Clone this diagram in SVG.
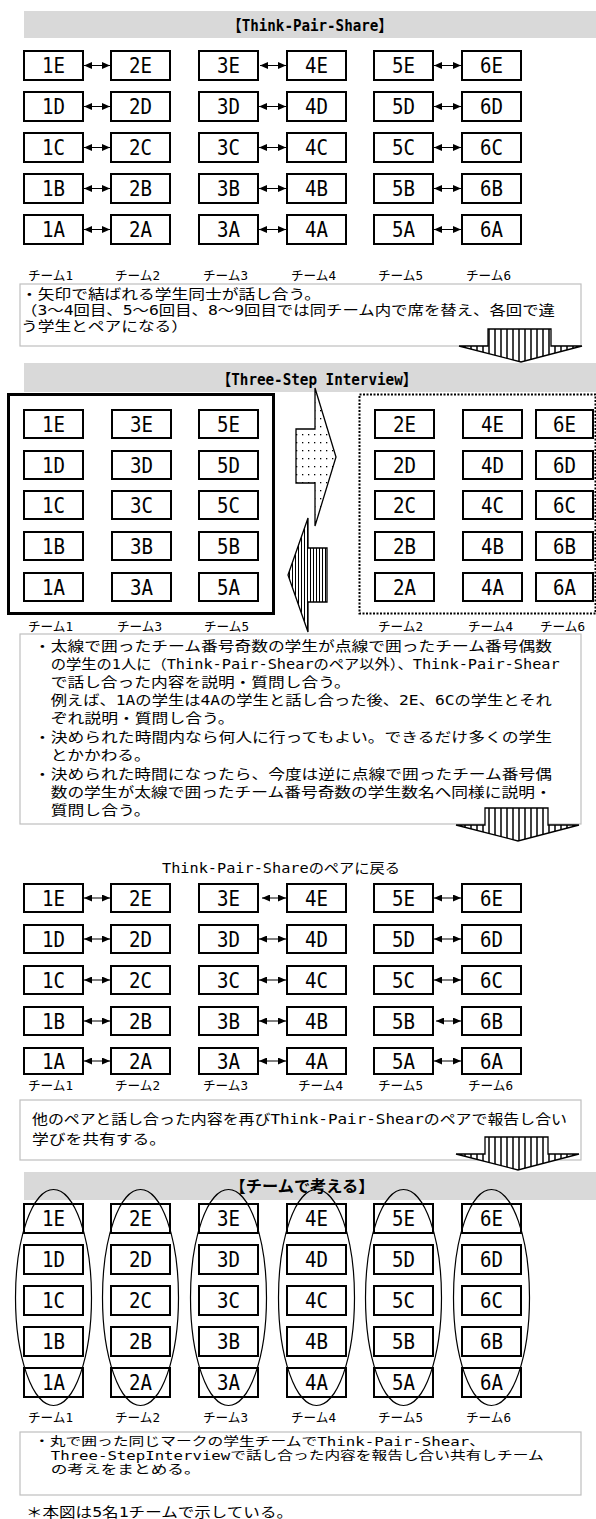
<svg xmlns="http://www.w3.org/2000/svg" width="596" height="1519" viewBox="0 0 596 1519">
<style>
text{font-family:"DejaVu Sans Mono","Noto Sans CJK JP",monospace;fill:#000}
.bar{fill:#d9d9d9}
.ttl{font-size:16px;font-weight:bold;text-anchor:middle}
.bx{fill:#fff;stroke:#000;stroke-width:2}
.lb{font-size:21px;text-anchor:middle}
.tm{font-size:13px}
.tb{fill:#fff;stroke:#bfbfbf;stroke-width:1.2}
.tx{font-size:13.4px}
.ts{font-size:12px}
.ar{stroke:#000;stroke-width:1;fill:none;marker-start:url(#ah);marker-end:url(#ah)}
.el{fill:none;stroke:#000;stroke-width:1.2}
</style>
<defs>
<marker id="ah" viewBox="0 0 8 7" refX="8" refY="3.5" markerWidth="8" markerHeight="7" markerUnits="userSpaceOnUse" orient="auto-start-reverse"><path d="M0,0 L8,3.5 L0,7 Z" fill="#000"/></marker>
<pattern id="vs" width="6" height="6" patternUnits="userSpaceOnUse"><rect width="6" height="6" fill="#fff"/><line x1="3" y1="0" x2="3" y2="6" stroke="#000" stroke-width="1.5"/></pattern>
<pattern id="vsd" width="3" height="3" patternUnits="userSpaceOnUse"><rect width="3" height="3" fill="#fff"/><line x1="1.5" y1="0" x2="1.5" y2="3" stroke="#000" stroke-width="1"/></pattern>
<pattern id="dt" width="6" height="8" patternUnits="userSpaceOnUse"><rect width="6" height="8" fill="#fff"/><rect x="2" y="2" width="1.3" height="1.3" fill="#000"/></pattern>
</defs>

<!-- Section 1 -->
<g id="title1"><rect class="bar" x="24" y="11" width="572" height="27"/><text class="ttl" x="310" y="31" textLength="165" lengthAdjust="spacingAndGlyphs">【Think-Pair-Share】</text></g>
<g id="s1-nodes">
<g id="s1-1E"><rect class="bx" x="24" y="51" width="59" height="29"/><text class="lb" x="53.5" y="73" textLength="23" lengthAdjust="spacingAndGlyphs">1E</text></g>
<g id="s1-2E"><rect class="bx" x="111" y="51" width="59" height="29"/><text class="lb" x="140.5" y="73" textLength="23" lengthAdjust="spacingAndGlyphs">2E</text></g>
<g id="s1-3E"><rect class="bx" x="199" y="51" width="59" height="29"/><text class="lb" x="228.5" y="73" textLength="23" lengthAdjust="spacingAndGlyphs">3E</text></g>
<g id="s1-4E"><rect class="bx" x="287" y="51" width="59" height="29"/><text class="lb" x="316.5" y="73" textLength="23" lengthAdjust="spacingAndGlyphs">4E</text></g>
<g id="s1-5E"><rect class="bx" x="374" y="51" width="59" height="29"/><text class="lb" x="403.5" y="73" textLength="23" lengthAdjust="spacingAndGlyphs">5E</text></g>
<g id="s1-6E"><rect class="bx" x="462" y="51" width="59" height="29"/><text class="lb" x="491.5" y="73" textLength="23" lengthAdjust="spacingAndGlyphs">6E</text></g>
<g id="s1-1D"><rect class="bx" x="24" y="92" width="59" height="29"/><text class="lb" x="53.5" y="114" textLength="23" lengthAdjust="spacingAndGlyphs">1D</text></g>
<g id="s1-2D"><rect class="bx" x="111" y="92" width="59" height="29"/><text class="lb" x="140.5" y="114" textLength="23" lengthAdjust="spacingAndGlyphs">2D</text></g>
<g id="s1-3D"><rect class="bx" x="199" y="92" width="59" height="29"/><text class="lb" x="228.5" y="114" textLength="23" lengthAdjust="spacingAndGlyphs">3D</text></g>
<g id="s1-4D"><rect class="bx" x="287" y="92" width="59" height="29"/><text class="lb" x="316.5" y="114" textLength="23" lengthAdjust="spacingAndGlyphs">4D</text></g>
<g id="s1-5D"><rect class="bx" x="374" y="92" width="59" height="29"/><text class="lb" x="403.5" y="114" textLength="23" lengthAdjust="spacingAndGlyphs">5D</text></g>
<g id="s1-6D"><rect class="bx" x="462" y="92" width="59" height="29"/><text class="lb" x="491.5" y="114" textLength="23" lengthAdjust="spacingAndGlyphs">6D</text></g>
<g id="s1-1C"><rect class="bx" x="24" y="133" width="59" height="29"/><text class="lb" x="53.5" y="155" textLength="23" lengthAdjust="spacingAndGlyphs">1C</text></g>
<g id="s1-2C"><rect class="bx" x="111" y="133" width="59" height="29"/><text class="lb" x="140.5" y="155" textLength="23" lengthAdjust="spacingAndGlyphs">2C</text></g>
<g id="s1-3C"><rect class="bx" x="199" y="133" width="59" height="29"/><text class="lb" x="228.5" y="155" textLength="23" lengthAdjust="spacingAndGlyphs">3C</text></g>
<g id="s1-4C"><rect class="bx" x="287" y="133" width="59" height="29"/><text class="lb" x="316.5" y="155" textLength="23" lengthAdjust="spacingAndGlyphs">4C</text></g>
<g id="s1-5C"><rect class="bx" x="374" y="133" width="59" height="29"/><text class="lb" x="403.5" y="155" textLength="23" lengthAdjust="spacingAndGlyphs">5C</text></g>
<g id="s1-6C"><rect class="bx" x="462" y="133" width="59" height="29"/><text class="lb" x="491.5" y="155" textLength="23" lengthAdjust="spacingAndGlyphs">6C</text></g>
<g id="s1-1B"><rect class="bx" x="24" y="174" width="59" height="29"/><text class="lb" x="53.5" y="196" textLength="23" lengthAdjust="spacingAndGlyphs">1B</text></g>
<g id="s1-2B"><rect class="bx" x="111" y="174" width="59" height="29"/><text class="lb" x="140.5" y="196" textLength="23" lengthAdjust="spacingAndGlyphs">2B</text></g>
<g id="s1-3B"><rect class="bx" x="199" y="174" width="59" height="29"/><text class="lb" x="228.5" y="196" textLength="23" lengthAdjust="spacingAndGlyphs">3B</text></g>
<g id="s1-4B"><rect class="bx" x="287" y="174" width="59" height="29"/><text class="lb" x="316.5" y="196" textLength="23" lengthAdjust="spacingAndGlyphs">4B</text></g>
<g id="s1-5B"><rect class="bx" x="374" y="174" width="59" height="29"/><text class="lb" x="403.5" y="196" textLength="23" lengthAdjust="spacingAndGlyphs">5B</text></g>
<g id="s1-6B"><rect class="bx" x="462" y="174" width="59" height="29"/><text class="lb" x="491.5" y="196" textLength="23" lengthAdjust="spacingAndGlyphs">6B</text></g>
<g id="s1-1A"><rect class="bx" x="24" y="215" width="59" height="29"/><text class="lb" x="53.5" y="237" textLength="23" lengthAdjust="spacingAndGlyphs">1A</text></g>
<g id="s1-2A"><rect class="bx" x="111" y="215" width="59" height="29"/><text class="lb" x="140.5" y="237" textLength="23" lengthAdjust="spacingAndGlyphs">2A</text></g>
<g id="s1-3A"><rect class="bx" x="199" y="215" width="59" height="29"/><text class="lb" x="228.5" y="237" textLength="23" lengthAdjust="spacingAndGlyphs">3A</text></g>
<g id="s1-4A"><rect class="bx" x="287" y="215" width="59" height="29"/><text class="lb" x="316.5" y="237" textLength="23" lengthAdjust="spacingAndGlyphs">4A</text></g>
<g id="s1-5A"><rect class="bx" x="374" y="215" width="59" height="29"/><text class="lb" x="403.5" y="237" textLength="23" lengthAdjust="spacingAndGlyphs">5A</text></g>
<g id="s1-6A"><rect class="bx" x="462" y="215" width="59" height="29"/><text class="lb" x="491.5" y="237" textLength="23" lengthAdjust="spacingAndGlyphs">6A</text></g>
</g>
<g id="s1-connectors">
<line class="ar" x1="84" y1="65.5" x2="110" y2="65.5"/><line class="ar" x1="260" y1="65.5" x2="286" y2="65.5"/><line class="ar" x1="434" y1="65.5" x2="461" y2="65.5"/>
<line class="ar" x1="84" y1="106.5" x2="110" y2="106.5"/><line class="ar" x1="259" y1="106.5" x2="286" y2="106.5"/><line class="ar" x1="434" y1="106.5" x2="461" y2="106.5"/>
<line class="ar" x1="84" y1="147.5" x2="110" y2="147.5"/><line class="ar" x1="259" y1="147.5" x2="286" y2="147.5"/><line class="ar" x1="434" y1="147.5" x2="461" y2="147.5"/>
<line class="ar" x1="84" y1="188.5" x2="110" y2="188.5"/><line class="ar" x1="259" y1="188.5" x2="286" y2="188.5"/><line class="ar" x1="434" y1="188.5" x2="461" y2="188.5"/>
<line class="ar" x1="84" y1="229.5" x2="110" y2="229.5"/><line class="ar" x1="259" y1="229.5" x2="286" y2="229.5"/><line class="ar" x1="434" y1="229.5" x2="461" y2="229.5"/>
</g>
<g id="s1-teams">
<text class="tm" x="28" y="280" textLength="45" lengthAdjust="spacingAndGlyphs">チーム1</text>
<text class="tm" x="115" y="280" textLength="45" lengthAdjust="spacingAndGlyphs">チーム2</text>
<text class="tm" x="203" y="280" textLength="45" lengthAdjust="spacingAndGlyphs">チーム3</text>
<text class="tm" x="291" y="280" textLength="45" lengthAdjust="spacingAndGlyphs">チーム4</text>
<text class="tm" x="378" y="280" textLength="45" lengthAdjust="spacingAndGlyphs">チーム5</text>
<text class="tm" x="466" y="280" textLength="45" lengthAdjust="spacingAndGlyphs">チーム6</text>
</g>
<g id="note1">
<rect class="tb" x="20" y="284" width="561" height="62"/>
<text class="tx" x="21" y="299" textLength="300" lengthAdjust="spacingAndGlyphs">・矢印で結ばれる学生同士が話し合う。</text>
<text class="tx" x="21" y="315" textLength="534" lengthAdjust="spacingAndGlyphs">（3～4回目、5～6回目、8～9回目では同チーム内で席を替え、各回で違</text>
<text class="tx" x="21" y="331" textLength="167" lengthAdjust="spacingAndGlyphs">う学生とペアになる）</text>
</g>
<path id="down1" d="M488,329 H551 V346 H582 L521,362 L459,346 H488 Z" fill="url(#vs)" stroke="#000" stroke-width="1.3"/>

<!-- Section 2 -->
<g id="title2"><rect class="bar" x="24" y="363" width="572" height="29"/><text class="ttl" x="317" y="385" textLength="200" lengthAdjust="spacingAndGlyphs">【Three-Step Interview】</text></g>
<rect id="oddframe" x="8.5" y="394.5" width="265" height="219" fill="none" stroke="#000" stroke-width="3"/>
<rect id="evenframe" x="359.5" y="394.5" width="236" height="219" fill="none" stroke="#000" stroke-width="2" stroke-dasharray="2 1.5"/>
<g id="s2-nodes">
<g id="s2-1E"><rect class="bx" x="24" y="410" width="59" height="28"/><text class="lb" x="53.5" y="431.5" textLength="23" lengthAdjust="spacingAndGlyphs">1E</text></g>
<g id="s2-3E"><rect class="bx" x="112" y="410" width="59" height="28"/><text class="lb" x="141.5" y="431.5" textLength="23" lengthAdjust="spacingAndGlyphs">3E</text></g>
<g id="s2-5E"><rect class="bx" x="199" y="410" width="59" height="28"/><text class="lb" x="228.5" y="431.5" textLength="23" lengthAdjust="spacingAndGlyphs">5E</text></g>
<g id="s2-1D"><rect class="bx" x="24" y="451" width="59" height="28"/><text class="lb" x="53.5" y="472.5" textLength="23" lengthAdjust="spacingAndGlyphs">1D</text></g>
<g id="s2-3D"><rect class="bx" x="112" y="451" width="59" height="28"/><text class="lb" x="141.5" y="472.5" textLength="23" lengthAdjust="spacingAndGlyphs">3D</text></g>
<g id="s2-5D"><rect class="bx" x="199" y="451" width="59" height="28"/><text class="lb" x="228.5" y="472.5" textLength="23" lengthAdjust="spacingAndGlyphs">5D</text></g>
<g id="s2-1C"><rect class="bx" x="24" y="491" width="59" height="28"/><text class="lb" x="53.5" y="512.5" textLength="23" lengthAdjust="spacingAndGlyphs">1C</text></g>
<g id="s2-3C"><rect class="bx" x="112" y="491" width="59" height="28"/><text class="lb" x="141.5" y="512.5" textLength="23" lengthAdjust="spacingAndGlyphs">3C</text></g>
<g id="s2-5C"><rect class="bx" x="199" y="491" width="59" height="28"/><text class="lb" x="228.5" y="512.5" textLength="23" lengthAdjust="spacingAndGlyphs">5C</text></g>
<g id="s2-1B"><rect class="bx" x="24" y="532" width="59" height="28"/><text class="lb" x="53.5" y="553.5" textLength="23" lengthAdjust="spacingAndGlyphs">1B</text></g>
<g id="s2-3B"><rect class="bx" x="112" y="532" width="59" height="28"/><text class="lb" x="141.5" y="553.5" textLength="23" lengthAdjust="spacingAndGlyphs">3B</text></g>
<g id="s2-5B"><rect class="bx" x="199" y="532" width="59" height="28"/><text class="lb" x="228.5" y="553.5" textLength="23" lengthAdjust="spacingAndGlyphs">5B</text></g>
<g id="s2-1A"><rect class="bx" x="24" y="573" width="59" height="28"/><text class="lb" x="53.5" y="594.5" textLength="23" lengthAdjust="spacingAndGlyphs">1A</text></g>
<g id="s2-3A"><rect class="bx" x="112" y="573" width="59" height="28"/><text class="lb" x="141.5" y="594.5" textLength="23" lengthAdjust="spacingAndGlyphs">3A</text></g>
<g id="s2-5A"><rect class="bx" x="199" y="573" width="59" height="28"/><text class="lb" x="228.5" y="594.5" textLength="23" lengthAdjust="spacingAndGlyphs">5A</text></g>
<g id="s2-2E"><rect class="bx" x="375" y="410" width="59" height="28"/><text class="lb" x="404.5" y="431.5" textLength="23" lengthAdjust="spacingAndGlyphs">2E</text></g>
<g id="s2-4E"><rect class="bx" x="463" y="410" width="59" height="28"/><text class="lb" x="492.5" y="431.5" textLength="23" lengthAdjust="spacingAndGlyphs">4E</text></g>
<g id="s2-6E"><rect class="bx" x="536" y="410" width="57" height="28"/><text class="lb" x="564.5" y="431.5" textLength="23" lengthAdjust="spacingAndGlyphs">6E</text></g>
<g id="s2-2D"><rect class="bx" x="375" y="451" width="59" height="28"/><text class="lb" x="404.5" y="472.5" textLength="23" lengthAdjust="spacingAndGlyphs">2D</text></g>
<g id="s2-4D"><rect class="bx" x="463" y="451" width="59" height="28"/><text class="lb" x="492.5" y="472.5" textLength="23" lengthAdjust="spacingAndGlyphs">4D</text></g>
<g id="s2-6D"><rect class="bx" x="536" y="451" width="57" height="28"/><text class="lb" x="564.5" y="472.5" textLength="23" lengthAdjust="spacingAndGlyphs">6D</text></g>
<g id="s2-2C"><rect class="bx" x="375" y="491" width="59" height="28"/><text class="lb" x="404.5" y="512.5" textLength="23" lengthAdjust="spacingAndGlyphs">2C</text></g>
<g id="s2-4C"><rect class="bx" x="463" y="491" width="59" height="28"/><text class="lb" x="492.5" y="512.5" textLength="23" lengthAdjust="spacingAndGlyphs">4C</text></g>
<g id="s2-6C"><rect class="bx" x="536" y="491" width="57" height="28"/><text class="lb" x="564.5" y="512.5" textLength="23" lengthAdjust="spacingAndGlyphs">6C</text></g>
<g id="s2-2B"><rect class="bx" x="375" y="532" width="59" height="28"/><text class="lb" x="404.5" y="553.5" textLength="23" lengthAdjust="spacingAndGlyphs">2B</text></g>
<g id="s2-4B"><rect class="bx" x="463" y="532" width="59" height="28"/><text class="lb" x="492.5" y="553.5" textLength="23" lengthAdjust="spacingAndGlyphs">4B</text></g>
<g id="s2-6B"><rect class="bx" x="536" y="532" width="57" height="28"/><text class="lb" x="564.5" y="553.5" textLength="23" lengthAdjust="spacingAndGlyphs">6B</text></g>
<g id="s2-2A"><rect class="bx" x="375" y="573" width="59" height="28"/><text class="lb" x="404.5" y="594.5" textLength="23" lengthAdjust="spacingAndGlyphs">2A</text></g>
<g id="s2-4A"><rect class="bx" x="463" y="573" width="59" height="28"/><text class="lb" x="492.5" y="594.5" textLength="23" lengthAdjust="spacingAndGlyphs">4A</text></g>
<g id="s2-6A"><rect class="bx" x="536" y="573" width="57" height="28"/><text class="lb" x="564.5" y="594.5" textLength="23" lengthAdjust="spacingAndGlyphs">6A</text></g>
</g>
<g id="s2-connectors">
<path id="go-right" d="M296,429 H315 V388 L336,457 L315,526 V483 H296 Z" fill="url(#dt)" stroke="#000" stroke-width="1.3"/>
<path id="go-left" d="M327,548 H308 V518 L288,575 L308,632 V602 H327 Z" fill="url(#vsd)" stroke="#000" stroke-width="1.3"/>
</g>
<g id="s2-teams">
<text class="tm" x="28" y="631" textLength="45" lengthAdjust="spacingAndGlyphs">チーム1</text>
<text class="tm" x="117" y="631" textLength="45" lengthAdjust="spacingAndGlyphs">チーム3</text>
<text class="tm" x="204" y="631" textLength="45" lengthAdjust="spacingAndGlyphs">チーム5</text>
<text class="tm" x="378" y="631" textLength="45" lengthAdjust="spacingAndGlyphs">チーム2</text>
<text class="tm" x="468" y="631" textLength="45" lengthAdjust="spacingAndGlyphs">チーム4</text>
<text class="tm" x="540" y="631" textLength="45" lengthAdjust="spacingAndGlyphs">チーム6</text>
</g>
<g id="note2">
<rect class="tb" x="20" y="634" width="561" height="190"/>
<text class="tx" x="34" y="651" textLength="518" lengthAdjust="spacingAndGlyphs">・太線で囲ったチーム番号奇数の学生が点線で囲ったチーム番号偶数</text>
<text class="tx" x="50.7" y="669" textLength="509" lengthAdjust="spacingAndGlyphs">の学生の1人に（Think-Pair-Shearのペア以外）、Think-Pair-Shear</text>
<text class="tx" x="50.7" y="687" textLength="300" lengthAdjust="spacingAndGlyphs">で話し合った内容を説明・質問し合う。</text>
<text class="tx" x="50.7" y="705" textLength="501" lengthAdjust="spacingAndGlyphs">例えば、1Aの学生は4Aの学生と話し合った後、2E、6Cの学生とそれ</text>
<text class="tx" x="50.7" y="723" textLength="184" lengthAdjust="spacingAndGlyphs">ぞれ説明・質問し合う。</text>
<text class="tx" x="34" y="742" textLength="518" lengthAdjust="spacingAndGlyphs">・決められた時間内なら何人に行ってもよい。できるだけ多くの学生</text>
<text class="tx" x="50.7" y="760" textLength="100" lengthAdjust="spacingAndGlyphs">とかかわる。</text>
<text class="tx" x="34" y="779" textLength="518" lengthAdjust="spacingAndGlyphs">・決められた時間になったら、今度は逆に点線で囲ったチーム番号偶</text>
<text class="tx" x="50.7" y="797" textLength="501" lengthAdjust="spacingAndGlyphs">数の学生が太線で囲ったチーム番号奇数の学生数名へ同様に説明・</text>
<text class="tx" x="50.7" y="815" textLength="100" lengthAdjust="spacingAndGlyphs">質問し合う。</text>
</g>
<path id="down2" d="M485,808 H548 V825 H579 L518,841 L456,825 H485 Z" fill="url(#vs)" stroke="#000" stroke-width="1.3"/>

<!-- Section 3 -->
<text id="title3" class="tx" x="162" y="873" textLength="238" lengthAdjust="spacingAndGlyphs">Think-Pair-Shareのペアに戻る</text>
<g id="s3-nodes">
<g id="s3-1E"><rect class="bx" x="24" y="884" width="59" height="28"/><text class="lb" x="53.5" y="905.5" textLength="23" lengthAdjust="spacingAndGlyphs">1E</text></g>
<g id="s3-2E"><rect class="bx" x="111" y="884" width="59" height="28"/><text class="lb" x="140.5" y="905.5" textLength="23" lengthAdjust="spacingAndGlyphs">2E</text></g>
<g id="s3-3E"><rect class="bx" x="199" y="884" width="59" height="28"/><text class="lb" x="228.5" y="905.5" textLength="23" lengthAdjust="spacingAndGlyphs">3E</text></g>
<g id="s3-4E"><rect class="bx" x="287" y="884" width="59" height="28"/><text class="lb" x="316.5" y="905.5" textLength="23" lengthAdjust="spacingAndGlyphs">4E</text></g>
<g id="s3-5E"><rect class="bx" x="374" y="884" width="59" height="28"/><text class="lb" x="403.5" y="905.5" textLength="23" lengthAdjust="spacingAndGlyphs">5E</text></g>
<g id="s3-6E"><rect class="bx" x="462" y="884" width="59" height="28"/><text class="lb" x="491.5" y="905.5" textLength="23" lengthAdjust="spacingAndGlyphs">6E</text></g>
<g id="s3-1D"><rect class="bx" x="24" y="925" width="59" height="28"/><text class="lb" x="53.5" y="946.5" textLength="23" lengthAdjust="spacingAndGlyphs">1D</text></g>
<g id="s3-2D"><rect class="bx" x="111" y="925" width="59" height="28"/><text class="lb" x="140.5" y="946.5" textLength="23" lengthAdjust="spacingAndGlyphs">2D</text></g>
<g id="s3-3D"><rect class="bx" x="199" y="925" width="59" height="28"/><text class="lb" x="228.5" y="946.5" textLength="23" lengthAdjust="spacingAndGlyphs">3D</text></g>
<g id="s3-4D"><rect class="bx" x="287" y="925" width="59" height="28"/><text class="lb" x="316.5" y="946.5" textLength="23" lengthAdjust="spacingAndGlyphs">4D</text></g>
<g id="s3-5D"><rect class="bx" x="374" y="925" width="59" height="28"/><text class="lb" x="403.5" y="946.5" textLength="23" lengthAdjust="spacingAndGlyphs">5D</text></g>
<g id="s3-6D"><rect class="bx" x="462" y="925" width="59" height="28"/><text class="lb" x="491.5" y="946.5" textLength="23" lengthAdjust="spacingAndGlyphs">6D</text></g>
<g id="s3-1C"><rect class="bx" x="24" y="966" width="59" height="28"/><text class="lb" x="53.5" y="987.5" textLength="23" lengthAdjust="spacingAndGlyphs">1C</text></g>
<g id="s3-2C"><rect class="bx" x="111" y="966" width="59" height="28"/><text class="lb" x="140.5" y="987.5" textLength="23" lengthAdjust="spacingAndGlyphs">2C</text></g>
<g id="s3-3C"><rect class="bx" x="199" y="966" width="59" height="28"/><text class="lb" x="228.5" y="987.5" textLength="23" lengthAdjust="spacingAndGlyphs">3C</text></g>
<g id="s3-4C"><rect class="bx" x="287" y="966" width="59" height="28"/><text class="lb" x="316.5" y="987.5" textLength="23" lengthAdjust="spacingAndGlyphs">4C</text></g>
<g id="s3-5C"><rect class="bx" x="374" y="966" width="59" height="28"/><text class="lb" x="403.5" y="987.5" textLength="23" lengthAdjust="spacingAndGlyphs">5C</text></g>
<g id="s3-6C"><rect class="bx" x="462" y="966" width="59" height="28"/><text class="lb" x="491.5" y="987.5" textLength="23" lengthAdjust="spacingAndGlyphs">6C</text></g>
<g id="s3-1B"><rect class="bx" x="24" y="1007" width="59" height="28"/><text class="lb" x="53.5" y="1028.5" textLength="23" lengthAdjust="spacingAndGlyphs">1B</text></g>
<g id="s3-2B"><rect class="bx" x="111" y="1007" width="59" height="28"/><text class="lb" x="140.5" y="1028.5" textLength="23" lengthAdjust="spacingAndGlyphs">2B</text></g>
<g id="s3-3B"><rect class="bx" x="199" y="1007" width="59" height="28"/><text class="lb" x="228.5" y="1028.5" textLength="23" lengthAdjust="spacingAndGlyphs">3B</text></g>
<g id="s3-4B"><rect class="bx" x="287" y="1007" width="59" height="28"/><text class="lb" x="316.5" y="1028.5" textLength="23" lengthAdjust="spacingAndGlyphs">4B</text></g>
<g id="s3-5B"><rect class="bx" x="374" y="1007" width="59" height="28"/><text class="lb" x="403.5" y="1028.5" textLength="23" lengthAdjust="spacingAndGlyphs">5B</text></g>
<g id="s3-6B"><rect class="bx" x="462" y="1007" width="59" height="28"/><text class="lb" x="491.5" y="1028.5" textLength="23" lengthAdjust="spacingAndGlyphs">6B</text></g>
<g id="s3-1A"><rect class="bx" x="24" y="1048" width="59" height="26"/><text class="lb" x="53.5" y="1068.5" textLength="23" lengthAdjust="spacingAndGlyphs">1A</text></g>
<g id="s3-2A"><rect class="bx" x="111" y="1048" width="59" height="26"/><text class="lb" x="140.5" y="1068.5" textLength="23" lengthAdjust="spacingAndGlyphs">2A</text></g>
<g id="s3-3A"><rect class="bx" x="199" y="1048" width="59" height="26"/><text class="lb" x="228.5" y="1068.5" textLength="23" lengthAdjust="spacingAndGlyphs">3A</text></g>
<g id="s3-4A"><rect class="bx" x="287" y="1048" width="59" height="26"/><text class="lb" x="316.5" y="1068.5" textLength="23" lengthAdjust="spacingAndGlyphs">4A</text></g>
<g id="s3-5A"><rect class="bx" x="374" y="1048" width="59" height="26"/><text class="lb" x="403.5" y="1068.5" textLength="23" lengthAdjust="spacingAndGlyphs">5A</text></g>
<g id="s3-6A"><rect class="bx" x="462" y="1048" width="59" height="26"/><text class="lb" x="491.5" y="1068.5" textLength="23" lengthAdjust="spacingAndGlyphs">6A</text></g>
</g>
<g id="s3-connectors">
<line class="ar" x1="84" y1="898" x2="110" y2="898"/><line class="ar" x1="262" y1="898" x2="286" y2="898"/><line class="ar" x1="434" y1="898" x2="461" y2="898"/>
<line class="ar" x1="84" y1="939" x2="110" y2="939"/><line class="ar" x1="259" y1="939" x2="286" y2="939"/><line class="ar" x1="434" y1="939" x2="461" y2="939"/>
<line class="ar" x1="84" y1="980" x2="110" y2="980"/><line class="ar" x1="259" y1="980" x2="286" y2="980"/><line class="ar" x1="434" y1="980" x2="461" y2="980"/>
<line class="ar" x1="84" y1="1021" x2="110" y2="1021"/><line class="ar" x1="259" y1="1021" x2="286" y2="1021"/><line class="ar" x1="436" y1="1021" x2="461" y2="1021"/>
<line class="ar" x1="84" y1="1061" x2="110" y2="1061"/><line class="ar" x1="259" y1="1061" x2="286" y2="1061"/><line class="ar" x1="434" y1="1061" x2="461" y2="1061"/>
</g>
<g id="s3-teams">
<text class="tm" x="28" y="1090" textLength="45" lengthAdjust="spacingAndGlyphs">チーム1</text>
<text class="tm" x="115" y="1090" textLength="45" lengthAdjust="spacingAndGlyphs">チーム2</text>
<text class="tm" x="203" y="1090" textLength="45" lengthAdjust="spacingAndGlyphs">チーム3</text>
<text class="tm" x="298" y="1090" textLength="45" lengthAdjust="spacingAndGlyphs">チーム4</text>
<text class="tm" x="378" y="1090" textLength="45" lengthAdjust="spacingAndGlyphs">チーム5</text>
<text class="tm" x="468" y="1090" textLength="45" lengthAdjust="spacingAndGlyphs">チーム6</text>
</g>
<g id="note3">
<rect class="tb" x="20" y="1100" width="561" height="60"/>
<text class="tx" x="32" y="1124" textLength="535" lengthAdjust="spacingAndGlyphs">他のペアと話し合った内容を再びThink-Pair-Shearのペアで報告し合い</text>
<text class="tx" x="32" y="1144" textLength="134" lengthAdjust="spacingAndGlyphs">学びを共有する。</text>
</g>
<path id="down3" d="M485,1137 H548 V1154 H579 L518,1170 L456,1154 H485 Z" fill="url(#vs)" stroke="#000" stroke-width="1.3"/>

<!-- Section 4 -->
<g id="title4"><rect class="bar" x="24" y="1172" width="572" height="28"/><text class="ttl" x="302" y="1192" textLength="145" lengthAdjust="spacingAndGlyphs">【チームで考える】</text></g>
<g id="s4-nodes">
<g id="s4-1E"><rect class="bx" x="24" y="1204" width="59" height="29"/><text class="lb" x="53.5" y="1226" textLength="23" lengthAdjust="spacingAndGlyphs">1E</text></g>
<g id="s4-2E"><rect class="bx" x="111" y="1204" width="59" height="29"/><text class="lb" x="140.5" y="1226" textLength="23" lengthAdjust="spacingAndGlyphs">2E</text></g>
<g id="s4-3E"><rect class="bx" x="199" y="1204" width="59" height="29"/><text class="lb" x="228.5" y="1226" textLength="23" lengthAdjust="spacingAndGlyphs">3E</text></g>
<g id="s4-4E"><rect class="bx" x="287" y="1204" width="59" height="29"/><text class="lb" x="316.5" y="1226" textLength="23" lengthAdjust="spacingAndGlyphs">4E</text></g>
<g id="s4-5E"><rect class="bx" x="374" y="1204" width="59" height="29"/><text class="lb" x="403.5" y="1226" textLength="23" lengthAdjust="spacingAndGlyphs">5E</text></g>
<g id="s4-6E"><rect class="bx" x="462" y="1204" width="59" height="29"/><text class="lb" x="491.5" y="1226" textLength="23" lengthAdjust="spacingAndGlyphs">6E</text></g>
<g id="s4-1D"><rect class="bx" x="24" y="1245" width="59" height="29"/><text class="lb" x="53.5" y="1267" textLength="23" lengthAdjust="spacingAndGlyphs">1D</text></g>
<g id="s4-2D"><rect class="bx" x="111" y="1245" width="59" height="29"/><text class="lb" x="140.5" y="1267" textLength="23" lengthAdjust="spacingAndGlyphs">2D</text></g>
<g id="s4-3D"><rect class="bx" x="199" y="1245" width="59" height="29"/><text class="lb" x="228.5" y="1267" textLength="23" lengthAdjust="spacingAndGlyphs">3D</text></g>
<g id="s4-4D"><rect class="bx" x="287" y="1245" width="59" height="29"/><text class="lb" x="316.5" y="1267" textLength="23" lengthAdjust="spacingAndGlyphs">4D</text></g>
<g id="s4-5D"><rect class="bx" x="374" y="1245" width="59" height="29"/><text class="lb" x="403.5" y="1267" textLength="23" lengthAdjust="spacingAndGlyphs">5D</text></g>
<g id="s4-6D"><rect class="bx" x="462" y="1245" width="59" height="29"/><text class="lb" x="491.5" y="1267" textLength="23" lengthAdjust="spacingAndGlyphs">6D</text></g>
<g id="s4-1C"><rect class="bx" x="24" y="1286" width="59" height="29"/><text class="lb" x="53.5" y="1308" textLength="23" lengthAdjust="spacingAndGlyphs">1C</text></g>
<g id="s4-2C"><rect class="bx" x="111" y="1286" width="59" height="29"/><text class="lb" x="140.5" y="1308" textLength="23" lengthAdjust="spacingAndGlyphs">2C</text></g>
<g id="s4-3C"><rect class="bx" x="199" y="1286" width="59" height="29"/><text class="lb" x="228.5" y="1308" textLength="23" lengthAdjust="spacingAndGlyphs">3C</text></g>
<g id="s4-4C"><rect class="bx" x="287" y="1286" width="59" height="29"/><text class="lb" x="316.5" y="1308" textLength="23" lengthAdjust="spacingAndGlyphs">4C</text></g>
<g id="s4-5C"><rect class="bx" x="374" y="1286" width="59" height="29"/><text class="lb" x="403.5" y="1308" textLength="23" lengthAdjust="spacingAndGlyphs">5C</text></g>
<g id="s4-6C"><rect class="bx" x="462" y="1286" width="59" height="29"/><text class="lb" x="491.5" y="1308" textLength="23" lengthAdjust="spacingAndGlyphs">6C</text></g>
<g id="s4-1B"><rect class="bx" x="24" y="1327" width="59" height="29"/><text class="lb" x="53.5" y="1349" textLength="23" lengthAdjust="spacingAndGlyphs">1B</text></g>
<g id="s4-2B"><rect class="bx" x="111" y="1327" width="59" height="29"/><text class="lb" x="140.5" y="1349" textLength="23" lengthAdjust="spacingAndGlyphs">2B</text></g>
<g id="s4-3B"><rect class="bx" x="199" y="1327" width="59" height="29"/><text class="lb" x="228.5" y="1349" textLength="23" lengthAdjust="spacingAndGlyphs">3B</text></g>
<g id="s4-4B"><rect class="bx" x="287" y="1327" width="59" height="29"/><text class="lb" x="316.5" y="1349" textLength="23" lengthAdjust="spacingAndGlyphs">4B</text></g>
<g id="s4-5B"><rect class="bx" x="374" y="1327" width="59" height="29"/><text class="lb" x="403.5" y="1349" textLength="23" lengthAdjust="spacingAndGlyphs">5B</text></g>
<g id="s4-6B"><rect class="bx" x="462" y="1327" width="59" height="29"/><text class="lb" x="491.5" y="1349" textLength="23" lengthAdjust="spacingAndGlyphs">6B</text></g>
<g id="s4-1A"><rect class="bx" x="24" y="1368" width="59" height="29"/><text class="lb" x="53.5" y="1390" textLength="23" lengthAdjust="spacingAndGlyphs">1A</text></g>
<g id="s4-2A"><rect class="bx" x="111" y="1368" width="59" height="29"/><text class="lb" x="140.5" y="1390" textLength="23" lengthAdjust="spacingAndGlyphs">2A</text></g>
<g id="s4-3A"><rect class="bx" x="199" y="1368" width="59" height="29"/><text class="lb" x="228.5" y="1390" textLength="23" lengthAdjust="spacingAndGlyphs">3A</text></g>
<g id="s4-4A"><rect class="bx" x="287" y="1368" width="59" height="29"/><text class="lb" x="316.5" y="1390" textLength="23" lengthAdjust="spacingAndGlyphs">4A</text></g>
<g id="s4-5A"><rect class="bx" x="374" y="1368" width="59" height="29"/><text class="lb" x="403.5" y="1390" textLength="23" lengthAdjust="spacingAndGlyphs">5A</text></g>
<g id="s4-6A"><rect class="bx" x="462" y="1368" width="59" height="29"/><text class="lb" x="491.5" y="1390" textLength="23" lengthAdjust="spacingAndGlyphs">6A</text></g>
</g>
<g id="s4-circles">
<ellipse class="el" cx="53.5" cy="1297.5" rx="38" ry="108"/>
<ellipse class="el" cx="140.5" cy="1297.5" rx="38" ry="108"/>
<ellipse class="el" cx="228.5" cy="1297.5" rx="38" ry="108"/>
<ellipse class="el" cx="316.5" cy="1297.5" rx="38" ry="108"/>
<ellipse class="el" cx="403.5" cy="1297.5" rx="38" ry="108"/>
<ellipse class="el" cx="491.5" cy="1297.5" rx="38" ry="108"/>
</g>
<g id="s4-teams">
<text class="tm" x="28" y="1422" textLength="45" lengthAdjust="spacingAndGlyphs">チーム1</text>
<text class="tm" x="115" y="1422" textLength="45" lengthAdjust="spacingAndGlyphs">チーム2</text>
<text class="tm" x="203" y="1422" textLength="45" lengthAdjust="spacingAndGlyphs">チーム3</text>
<text class="tm" x="291" y="1422" textLength="45" lengthAdjust="spacingAndGlyphs">チーム4</text>
<text class="tm" x="378" y="1422" textLength="45" lengthAdjust="spacingAndGlyphs">チーム5</text>
<text class="tm" x="466" y="1422" textLength="45" lengthAdjust="spacingAndGlyphs">チーム6</text>
</g>
<g id="note4">
<rect class="tb" x="20" y="1432" width="561" height="63"/>
<text class="ts" x="34" y="1446" textLength="451" lengthAdjust="spacingAndGlyphs">・丸で囲った同じマークの学生チームでThink-Pair-Shear、</text>
<text class="ts" x="50.7" y="1460" textLength="493" lengthAdjust="spacingAndGlyphs">Three-StepInterviewで話し合った内容を報告し合い共有しチーム</text>
<text class="ts" x="50.7" y="1474" textLength="150" lengthAdjust="spacingAndGlyphs">の考えをまとめる。</text>
</g>
<text id="footnote" class="tx" x="26" y="1517" textLength="267" lengthAdjust="spacingAndGlyphs">＊本図は5名1チームで示している。</text>
</svg>
